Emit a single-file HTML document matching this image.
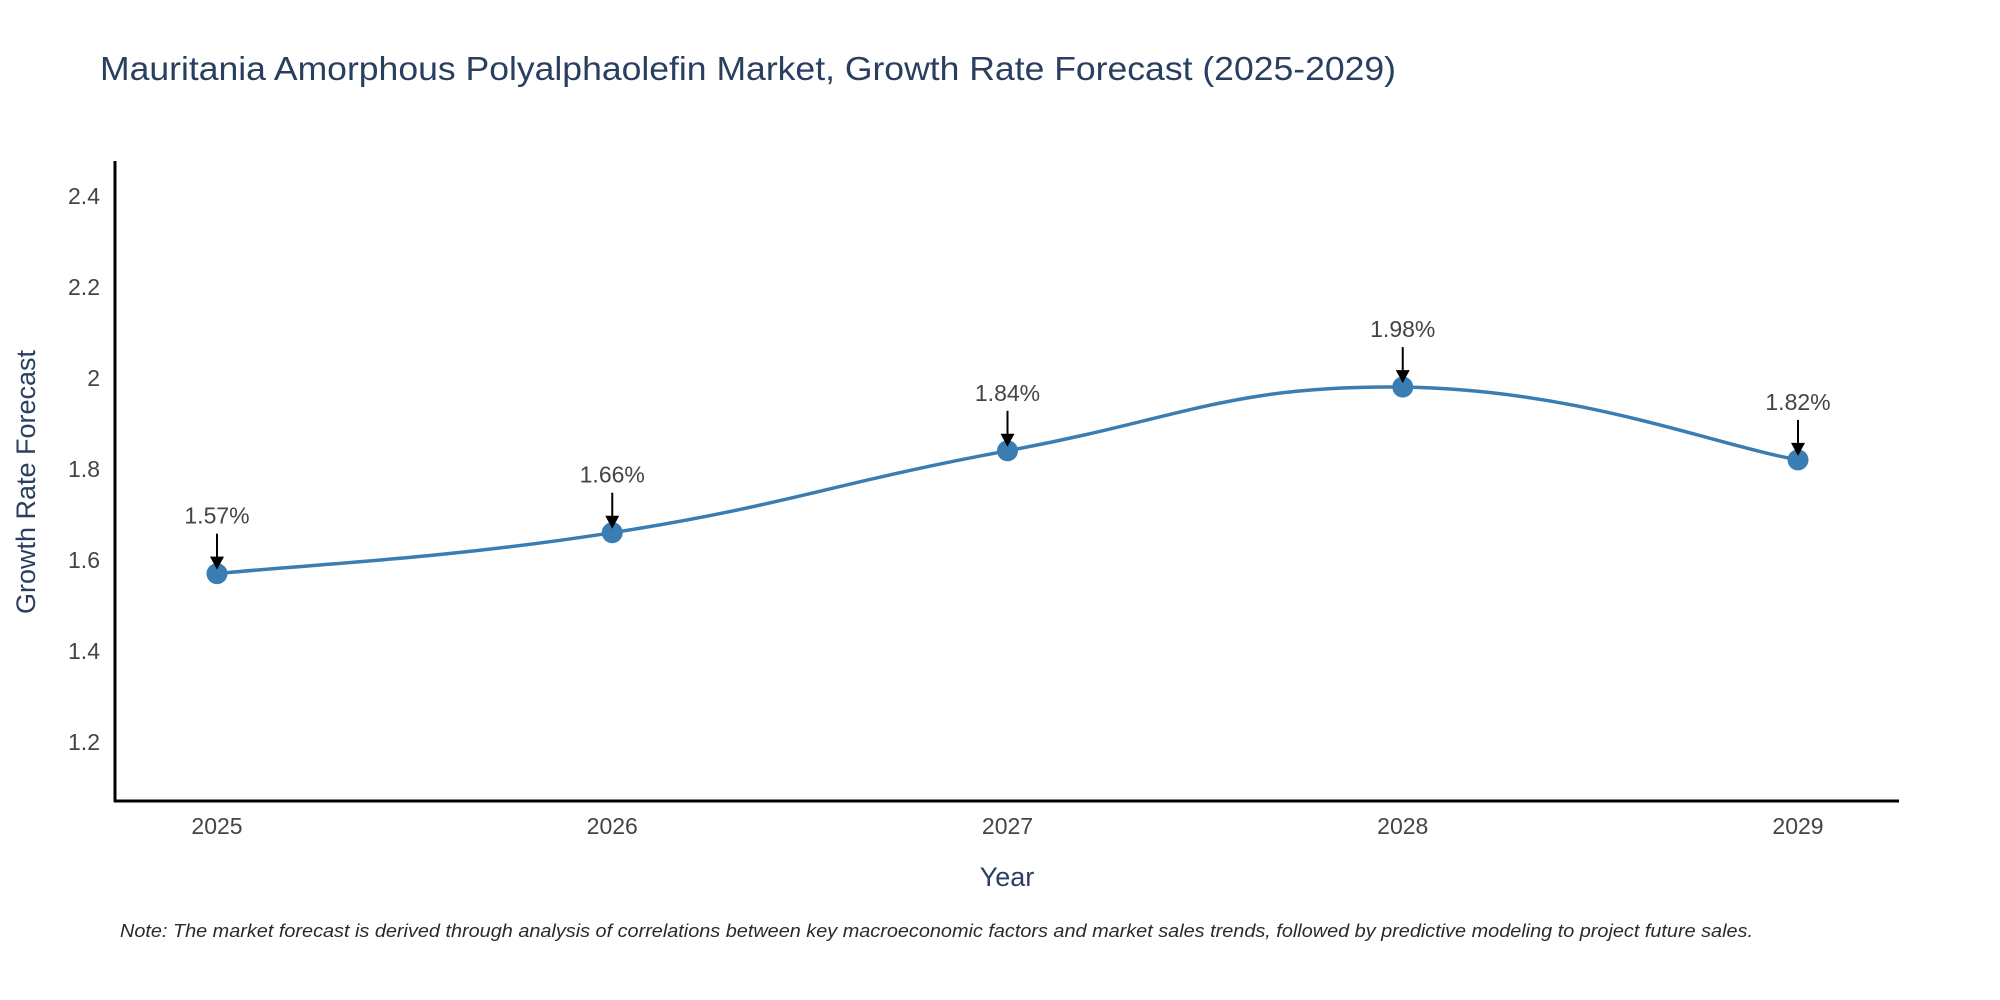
<!DOCTYPE html>
<html><head><meta charset="utf-8"><style>
html,body{margin:0;padding:0;background:#fff;}
svg{display:block;font-family:"Liberation Sans","DejaVu Sans",sans-serif;}
</style></head><body>
<svg id="chart" width="2000" height="1000" viewBox="0 0 2000 1000">
<text x="100" y="80" font-size="33" fill="#2a3f5f" textLength="1296" lengthAdjust="spacingAndGlyphs">Mauritania Amorphous Polyalphaolefin Market, Growth Rate Forecast (2025-2029)</text>
<g id="yticks"></g>
<g id="xticks"></g>
<path id="line" fill="none" stroke="#3a7db2" stroke-width="3.5"/>
<g id="points"></g>
<g id="annos"></g>
<line x1="115" y1="161" x2="115" y2="802" stroke="#000" stroke-width="3"/>
<line x1="114" y1="801" x2="1899" y2="801" stroke="#000" stroke-width="3"/>
<text x="1007" y="886" font-size="27" fill="#2a3f5f" text-anchor="middle">Year</text>
<text transform="translate(35,482) rotate(-90)" font-size="27" fill="#2a3f5f" text-anchor="middle">Growth Rate Forecast</text>
<text x="120" y="937" font-size="18" font-style="italic" fill="#2a2a2a" textLength="1633" lengthAdjust="spacingAndGlyphs">Note: The market forecast is derived through analysis of correlations between key macroeconomic factors and market sales trends, followed by predictive modeling to project future sales.</text>
</svg>
<script>
const years = ["2025","2026","2027","2028","2029"];
const values = [1.57, 1.66, 1.84, 1.98, 1.82];
const yTicks = [1.2, 1.4, 1.6, 1.8, 2, 2.2, 2.4];
const yTickLabels = ["1.2","1.4","1.6","1.8","2","2.2","2.4"];

const NS = "http://www.w3.org/2000/svg";
function xPos(i){ return 217 + i * (1798 - 217) / (years.length - 1); }
function yPos(v){ return 742 - (v - 1.2) / 0.2 * 91; }
function mk(tag, attrs, parent){ const e = document.createElementNS(NS, tag); for (const k in attrs) e.setAttribute(k, attrs[k]); parent.appendChild(e); return e; }

const yg = document.getElementById('yticks');
yTicks.forEach((v, i) => {
  const t = mk('text', {x: 100, y: yPos(v) + 8, 'font-size': 23, fill: '#444', 'text-anchor': 'end'}, yg);
  
  
  t.textContent = yTickLabels[i];
});
const xg = document.getElementById('xticks');
years.forEach((y, i) => {
  const t = mk('text', {x: xPos(i), y: 834, 'font-size': 23, fill: '#444', 'text-anchor': 'middle'}, xg);
  
  
  t.textContent = y;
});

const pts = values.map((v, i) => [xPos(i), yPos(v)]);
let d = "M" + pts[0][0] + "," + pts[0][1];
const s = 0.22;
for (let i = 0; i < pts.length - 1; i++) {
  const p0 = pts[Math.max(0, i - 1)], p1 = pts[i], p2 = pts[i + 1], p3 = pts[Math.min(pts.length - 1, i + 2)];
  const c1 = [p1[0] + (p2[0] - p0[0]) * s, p1[1] + (p2[1] - p0[1]) * s];
  const c2 = [p2[0] - (p3[0] - p1[0]) * s, p2[1] - (p3[1] - p1[1]) * s];
  d += " C" + c1.join(",") + " " + c2.join(",") + " " + p2.join(",");
}
document.getElementById('line').setAttribute('d', d);

const pg = document.getElementById('points');
const ag = document.getElementById('annos');
pts.forEach((p, i) => {
  const c = mk('circle', {cx: p[0], cy: p[1], r: 10.5, fill: '#3a7db2'}, pg);
  
  
  const ln = mk('line', {x1: p[0], y1: p[1] - 40, x2: p[0], y2: p[1] - 14, stroke: '#000', 'stroke-width': 2}, ag);
  
  
  const hd = mk('path', {d: `M${p[0]-7},${p[1]-17} L${p[0]+7},${p[1]-17} L${p[0]},${p[1]-4} Z`, fill: '#000'}, ag);
  
  
  const t = mk('text', {x: p[0], y: p[1] - 50, 'font-size': 23, fill: '#444', 'text-anchor': 'middle'}, ag);
  
  
  t.textContent = values[i].toFixed(2) + "%";
});
</script>
</body></html>
